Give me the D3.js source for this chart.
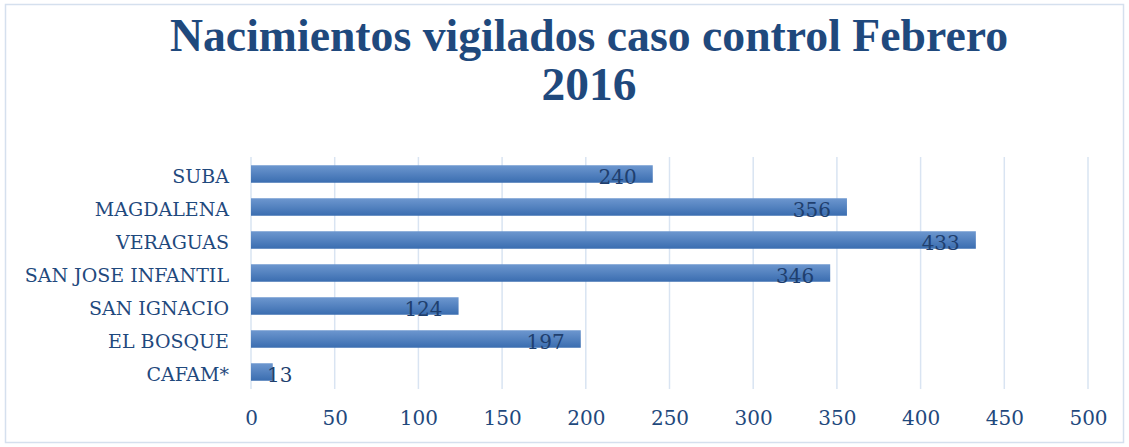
<!DOCTYPE html>
<html><head><meta charset="utf-8">
<script src="https://cdn.jsdelivr.net/npm/d3@7"></script>
<style>body{margin:0;background:#fff}svg{display:block}</style>
</head><body>
<svg id="c" width="1129" height="447"></svg>
<script>
const categories = ["SUBA","MAGDALENA","VERAGUAS","SAN JOSE INFANTIL","SAN IGNACIO","EL BOSQUE","CAFAM*"];
const values = [240,356,433,346,124,197,13];
const xTicks = [0,50,100,150,200,250,300,350,400,450,500];
const titleLines = ["Nacimientos vigilados caso control Febrero","2016"];

const svg = d3.select("#c");
const W=1129,H=447;
const font = "'DejaVu Serif', 'Liberation Serif', serif";
const titleFont = "'Liberation Serif', 'DejaVu Serif', serif";
const textColor = "#1f497d";

svg.append("rect").attr("x",5.5).attr("y",4.5).attr("width",W-11).attr("height",H-9)
  .attr("fill","#fff").attr("stroke","#d5e0ee").attr("stroke-width",1.5);

const defs = svg.append("defs");
const g = defs.append("linearGradient").attr("id","bg").attr("x1",0).attr("y1",0).attr("x2",0).attr("y2",1);
g.append("stop").attr("offset","0%").attr("stop-color","#6d97cf");
g.append("stop").attr("offset","100%").attr("stop-color","#3a6db0");

const x = d3.scaleLinear().domain([0,500]).range([251,1088]);
const y = d3.scaleBand().domain(categories).range([157.5,388.5]).paddingInner(0.47).paddingOuter(0.235);

// title
titleLines.forEach((t,i)=>{
  const tt = svg.append("text").attr("x",589).attr("y",51+i*49).attr("text-anchor","middle")
    .attr("font-family",titleFont).attr("font-weight","bold").attr("font-size",46)
    .attr("fill",textColor).text(t);
  if(i===0) tt.attr("textLength",838).attr("lengthAdjust","spacingAndGlyphs");
  else tt.attr("textLength",95).attr("lengthAdjust","spacingAndGlyphs");
});

// gridlines
svg.append("g").selectAll("line").data(xTicks).join("line")
  .attr("x1",d=>x(d)).attr("x2",d=>x(d)).attr("y1",157).attr("y2",389)
  .attr("stroke","#d9e4f2").attr("stroke-width",1.5);

// x axis labels
const xa = svg.append("g").attr("transform","translate(0,389)")
  .call(d3.axisBottom(x).tickValues(xTicks).tickSize(0).tickPadding(22));
xa.select(".domain").remove();
xa.selectAll("text").attr("font-family",font).attr("font-size",20).attr("fill",textColor);

// y axis labels
const ya = svg.append("g").attr("transform","translate(251,0)")
  .call(d3.axisLeft(y).tickSize(0).tickPadding(22));
ya.select(".domain").remove();
ya.selectAll("text").attr("font-family",font).attr("font-size",19).attr("fill",textColor)
  .attr("dy","0.45em");

// bars
svg.append("g").selectAll("rect").data(categories).join("rect")
  .attr("x",x(0)).attr("y",d=>y(d)).attr("height",y.bandwidth())
  .attr("width",(d,i)=>x(values[i])-x(0)).attr("fill","url(#bg)");

// data labels
const lbl = svg.append("g").selectAll("text").data(categories).join("text")
  .attr("y",d=>y(d)+y.bandwidth()/2+9.5)
  .attr("font-family",font).attr("font-size",20).attr("fill","#1f3f6e")
  .text((d,i)=>values[i]);
lbl.each(function(d,i){
  const w = this.getComputedTextLength();
  let end = x(values[i]) - 16;
  if(end - w < x(0) + 16) end = x(0) + 16 + w;
  d3.select(this).attr("x", end).attr("text-anchor","end");
});
</script>
</body></html>
